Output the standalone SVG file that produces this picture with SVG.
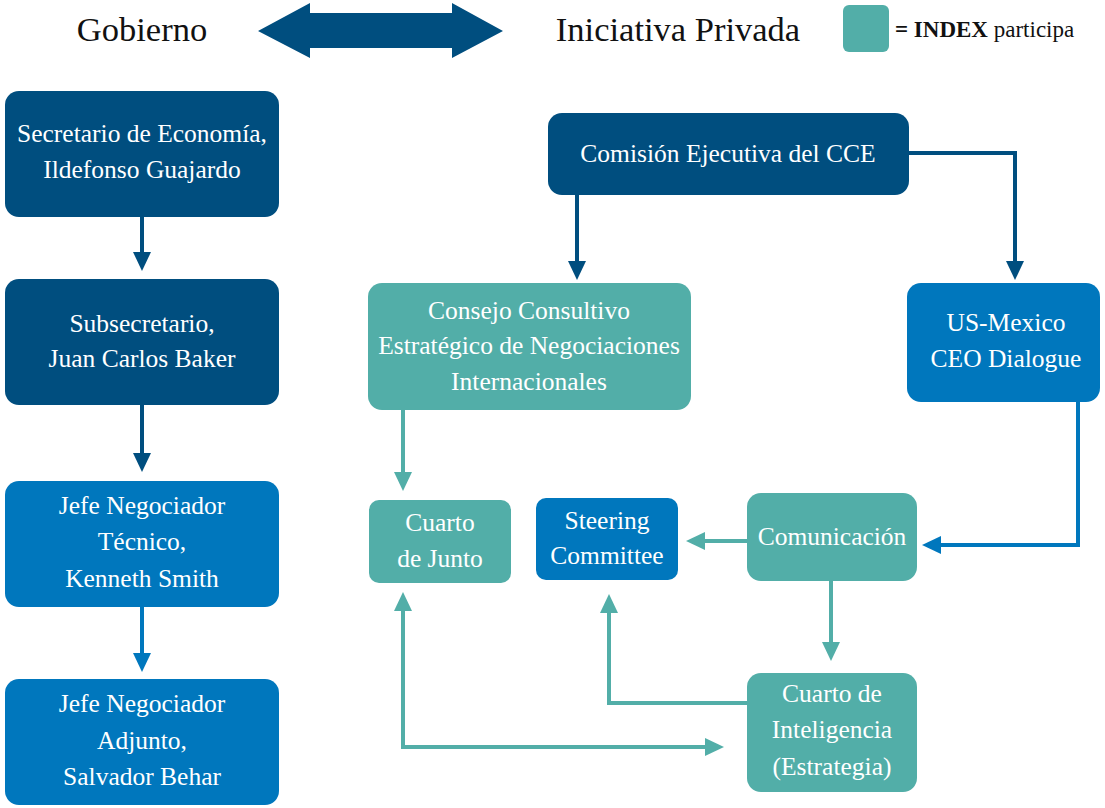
<svg xmlns="http://www.w3.org/2000/svg" width="1105" height="808" viewBox="0 0 1105 808">
<style>
text{font-family:"Liberation Serif","Times New Roman",serif;}
.t{fill:#fff;font-size:25.5px;text-anchor:middle;}
.h{fill:#111;font-size:34.5px;text-anchor:middle;}
.dark{fill:#004e7f;}
.med{fill:#0077bd;}
.teal{fill:#52aea8;}
.c{fill:none;stroke-width:4;}
.cd{stroke:#004e7f;}
.cm{stroke:#0077bd;}
.ct{stroke:#52aea8;}
</style>
<defs>
<marker id="ad" markerUnits="userSpaceOnUse" markerWidth="20" markerHeight="20" viewBox="0 0 20 20" refX="2" refY="10" orient="auto"><path d="M0,1 L19,10 L0,19 z" fill="#004e7f"/></marker>
<marker id="am" markerUnits="userSpaceOnUse" markerWidth="20" markerHeight="20" viewBox="0 0 20 20" refX="2" refY="10" orient="auto"><path d="M0,1 L19,10 L0,19 z" fill="#0077bd"/></marker>
<marker id="at" markerUnits="userSpaceOnUse" markerWidth="20" markerHeight="20" viewBox="0 0 20 20" refX="2" refY="10" orient="auto"><path d="M0,1 L19,10 L0,19 z" fill="#52aea8"/></marker>
<marker id="ats" markerUnits="userSpaceOnUse" markerWidth="20" markerHeight="20" viewBox="0 0 20 20" refX="2" refY="10" orient="auto-start-reverse"><path d="M0,1 L19,10 L0,19 z" fill="#52aea8"/></marker>
</defs>

<g id="header">
<text class="h" x="142" y="41">Gobierno</text>
<path d="M258,31 L310,3 L310,13 L452,13 L452,3 L503,31 L452,58 L452,48 L310,48 L310,58 z" fill="#004e7f"/>
<text class="h" x="678" y="41">Iniciativa Privada</text>
</g>
<g id="legend">
<rect x="843" y="5" width="46" height="47" rx="6" class="teal"/>
<text x="895" y="37" style="font-size:23px;fill:#111"><tspan font-weight="bold">= INDEX</tspan> participa</text>
</g>

<g id="connectors">
<line class="c cd" x1="142" y1="217" x2="142" y2="254" marker-end="url(#ad)"/>
<line class="c cd" x1="142" y1="405" x2="142" y2="455" marker-end="url(#ad)"/>
<line class="c cm" x1="142" y1="607" x2="142" y2="655" marker-end="url(#am)"/>
<line class="c cd" x1="577" y1="195" x2="577" y2="263" marker-end="url(#ad)"/>
<polyline class="c cd" points="909,153 1015,153 1015,263" marker-end="url(#ad)"/>
<line class="c ct" x1="403" y1="410" x2="403" y2="474" marker-end="url(#at)"/>
<polyline class="c cm" points="1078,402 1078,545 939,545" marker-end="url(#am)"/>
<line class="c ct" x1="747" y1="541" x2="703" y2="541" marker-end="url(#at)"/>
<line class="c ct" x1="831" y1="581" x2="831" y2="644" marker-end="url(#at)"/>
<polyline class="c ct" points="747,703 609,703 609,611" marker-end="url(#at)"/>
<polyline class="c ct" points="403,609 403,747 707,747" marker-start="url(#ats)" marker-end="url(#at)"/>
</g>

<g id="n-secretario">
<rect x="5" y="91" width="274" height="126" rx="14" class="dark"/>
<text class="t" x="142" y="142">Secretario de Economía,</text>
<text class="t" x="142" y="178">Ildefonso Guajardo</text>
</g>
<g id="n-subsecretario">
<rect x="5" y="279" width="274" height="126" rx="14" class="dark"/>
<text class="t" x="142" y="332">Subsecretario,</text>
<text class="t" x="142" y="367">Juan Carlos Baker</text>
</g>
<g id="n-jefe-tecnico">
<rect x="5" y="481" width="274" height="126" rx="14" class="med"/>
<text class="t" x="142" y="514">Jefe Negociador</text>
<text class="t" x="142" y="550">Técnico,</text>
<text class="t" x="142" y="587">Kenneth Smith</text>
</g>
<g id="n-jefe-adjunto">
<rect x="5" y="679" width="274" height="126" rx="14" class="med"/>
<text class="t" x="142" y="712">Jefe Negociador</text>
<text class="t" x="142" y="749">Adjunto,</text>
<text class="t" x="142" y="785">Salvador Behar</text>
</g>
<g id="n-cce">
<rect x="548" y="113" width="361" height="82" rx="14" class="dark"/>
<text class="t" x="728" y="162">Comisión Ejecutiva del CCE</text>
</g>
<g id="n-consejo">
<rect x="368" y="283" width="323" height="127" rx="14" class="teal"/>
<text class="t" x="529" y="319">Consejo Consultivo</text>
<text class="t" x="529" y="354">Estratégico de Negociaciones</text>
<text class="t" x="529" y="390">Internacionales</text>
</g>
<g id="n-usmexico">
<rect x="907" y="283" width="193" height="119" rx="14" class="med"/>
<text class="t" x="1006" y="331">US-Mexico</text>
<text class="t" x="1006" y="367">CEO Dialogue</text>
</g>
<g id="n-junto">
<rect x="369" y="500" width="142" height="83" rx="10" class="teal"/>
<text class="t" x="440" y="531">Cuarto</text>
<text class="t" x="440" y="567">de Junto</text>
</g>
<g id="n-steering">
<rect x="536" y="498" width="142" height="82" rx="10" class="med"/>
<text class="t" x="607" y="529">Steering</text>
<text class="t" x="607" y="564">Committee</text>
</g>
<g id="n-comunicacion">
<rect x="747" y="493" width="170" height="88" rx="14" class="teal"/>
<text class="t" x="832" y="545">Comunicación</text>
</g>
<g id="n-inteligencia">
<rect x="747" y="673" width="170" height="119" rx="14" class="teal"/>
<text class="t" x="832" y="702">Cuarto de</text>
<text class="t" x="832" y="738">Inteligencia</text>
<text class="t" x="832" y="775">(Estrategia)</text>
</g>
</svg>
